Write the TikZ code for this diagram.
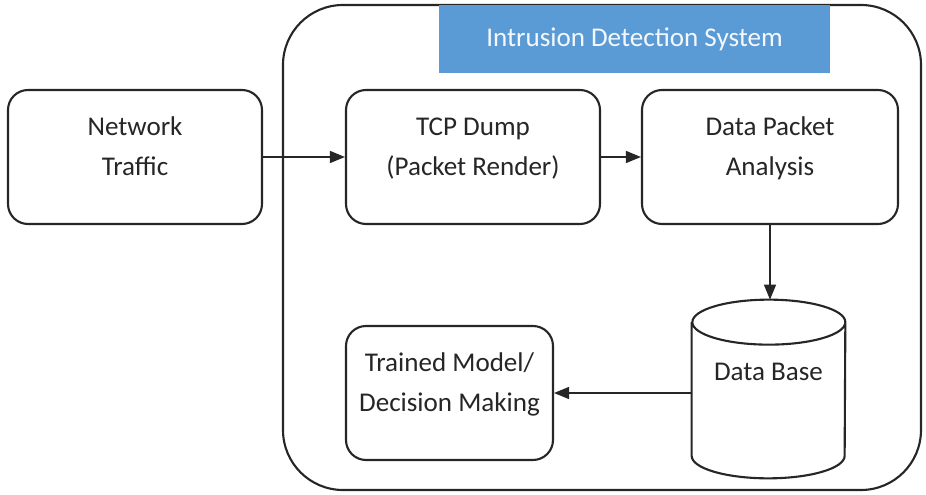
\documentclass[tikz,border=0pt]{standalone}
\usepackage{fontspec}
\setmainfont{Carlito}
\usetikzlibrary{arrows.meta}

\definecolor{idsblue}{HTML}{5B9BD5}
\definecolor{inkgray}{HTML}{262626}

\begin{document}
\begin{tikzpicture}[inkgray]

\useasboundingbox (0,0) rectangle (18.52,9.9);

% IDS frame and its banner
\draw [line width=1.2pt, rounded corners=1.2cm] (5.66,0.1) rectangle (18.42,9.8);
\node (T) at (12.69,9.12) [fill=idsblue, minimum width=7.82cm, minimum height=1.36cm,
    text=white!93!idsblue, font=\fontsize{15.4}{22.7}\selectfont] {Intrusion Detection System};

\begin{scope}[every node/.style={draw, line width=1.2pt, fill=white, rounded corners=0.4cm,
        align=center, minimum height=2.68cm, text depth=0.42cm,
        font=\fontsize{15.4}{22.7}\selectfont}]
    \node (A) at (2.7,6.76) [minimum width=5.08cm] {Network\\Traffic};

    \node (B) at (9.46,6.76) [minimum width=5.08cm] {TCP Dump\\(Packet Render)};

    \node (C) at (15.4,6.76) [minimum width=5.12cm] {Data Packet\\Analysis};

    \node (E) at (8.99,2.04) [minimum width=4.14cm] {Trained Model/\\Decision Making};
\end{scope}

% storage drum: plain node for the text, outline drawn round it
\node (D) at (15.37,2.12) [minimum width=3.06cm, minimum height=3.56cm, text depth=0.7cm,
    font=\fontsize{15.4}{22.7}\selectfont] {Data Base};
\draw [line width=1.2pt] ([yshift=-0.45cm]D.north west) -- ([yshift=0.45cm]D.south west)
    arc[start angle=180, end angle=360, x radius=1.53cm, y radius=0.45cm]
    -- ([yshift=-0.45cm]D.north east)
    arc[start angle=0, end angle=180, x radius=1.53cm, y radius=0.45cm]
    arc[start angle=180, end angle=360, x radius=1.53cm, y radius=0.45cm];

\begin{scope}[>={Triangle[length=0.3cm,width=0.24cm]}, line width=0.8pt]
    \draw [->] (A) -- (B);
    \draw [->] (B) -- (C);
    \draw [->] (C.south) -- (C.south |- D.north);
    \draw [->] (D.west |- E.east) -- (E.east);
\end{scope}

\end{tikzpicture}
\end{document}
